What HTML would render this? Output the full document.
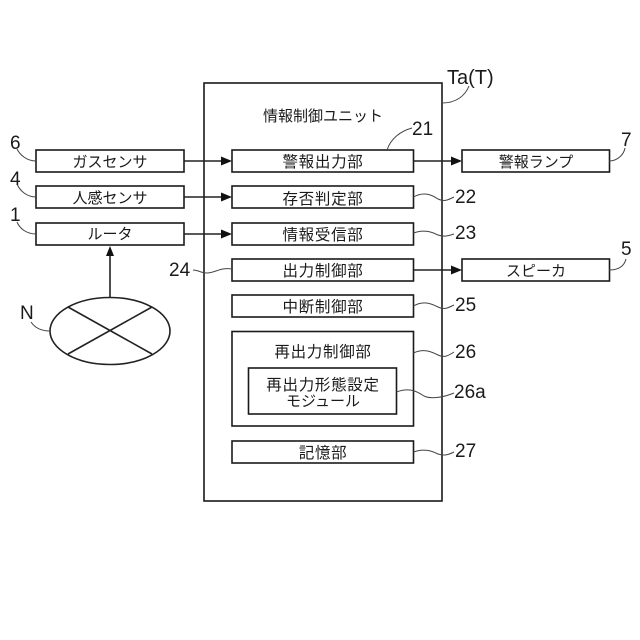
<!DOCTYPE html>
<html><head><meta charset="utf-8"><style>
html,body{margin:0;padding:0;background:#fff}
svg{display:block}
text{font-family:"Liberation Sans","Noto Sans CJK JP",sans-serif;fill:#1a1a1a}
.j{font-size:15.5px;letter-spacing:.7px;text-anchor:middle}
.k{font-size:15px;letter-spacing:0;text-anchor:middle}
.n{font-size:19px}
rect{fill:none;stroke:#1a1a1a;stroke-width:1.6}
.l{fill:none;stroke:#222;stroke-width:1.6}
.t{fill:none;stroke:#444;stroke-width:1}
.a{fill:#111}
</style></head><body>
<svg width="640" height="640" viewBox="0 0 640 640" xmlns="http://www.w3.org/2000/svg">
<rect x="204" y="83" width="238" height="418"/>
<rect x="36" y="150" width="148" height="22"/>
<rect x="36" y="186" width="148" height="22"/>
<rect x="36" y="223" width="148" height="22"/>
<rect x="232" y="150" width="181.500" height="22"/>
<rect x="232" y="186" width="181.500" height="22"/>
<rect x="232" y="223" width="181.500" height="22"/>
<rect x="232" y="259" width="181.500" height="22"/>
<rect x="232" y="295" width="181.500" height="22"/>
<rect x="232" y="331.500" width="181.500" height="94.500"/>
<rect x="248.500" y="368" width="148" height="46"/>
<rect x="232" y="441" width="181.500" height="22"/>
<rect x="462" y="150" width="147.500" height="22"/>
<rect x="462" y="259" width="147.500" height="22"/>
<ellipse class="l" cx="110" cy="331" rx="60" ry="33.500"/>
<path class="l" d="M68 307L152 354M152 307L68 354" stroke-width="1.300"/>
<path class="l" d="M110 297V250M184 161H222M184 197H222M184 234H222M413.500 161H452M413.500 270H452"/>
<path class="a" d="M110 246L106 256H114ZM232 161L221 156.500V165.500ZM232 197L221 192.500V201.500ZM232 234L221 229.500V238.500ZM462 161L451 156.500V165.500ZM462 270L451 265.500V274.500Z"/>
<path class="t" d="M36 161C27 161 20 155 17 149M36 197C27 197 20 191 17 184M36 234C27 234 20 229 17 222M232 269C220 267 215 273 207 273C201 273 198 270 193 270M50 331C41 331 35 328 31 322M442 103C456 103 465 96 469 86M387 150C391 138 401 131 412 128M609 161C618 161 624 154 625 148M609 270C618 270 624 267 626 259M413.500 197C424 191 432 195 438 199C444 202 448 200 454 197M413.500 233C424 229 432 232 438 235C444 237 448 236 454 234M413.500 306C424 300 432 304 438 307C444 310 448 308 454 305M413.500 353C424 348 432 352 438 355C444 358 448 356 454 352M396.500 392C410 387 418 392 424 396C430 399 442 398 454 393M413.500 452C424 448 432 451 438 454C444 456 448 455 454 452"/>
<text class="k" x="110" y="167">ガスセンサ</text>
<text class="k" x="110" y="203">人感センサ</text>
<text class="k" x="110" y="239">ルータ</text>
<text class="k" x="323" y="121">情報制御ユニット</text>
<text class="j" x="323" y="167">警報出力部</text>
<text class="j" x="323" y="204">存否判定部</text>
<text class="j" x="323" y="240">情報受信部</text>
<text class="j" x="323" y="276">出力制御部</text>
<text class="j" x="323" y="312">中断制御部</text>
<text class="j" x="323" y="357">再出力制御部</text>
<text class="j" x="323" y="390">再出力形態設定</text>
<text class="k" x="323" y="406">モジュール</text>
<text class="j" x="323" y="458">記憶部</text>
<text class="k" x="536" y="167">警報ランプ</text>
<text class="k" x="536" y="276">スピーカ</text>
<text class="n" x="10" y="149">6</text>
<text class="n" x="10" y="185">4</text>
<text class="n" x="10" y="221">1</text>
<text class="n" x="20" y="319">N</text>
<text class="n" x="169" y="276">24</text>
<text class="n" x="447" y="84" style="font-size:20px">Ta(T)</text>
<text class="n" x="412" y="135">21</text>
<text class="n" x="621" y="146">7</text>
<text class="n" x="621" y="255">5</text>
<text class="n" x="455" y="203">22</text>
<text class="n" x="455" y="239">23</text>
<text class="n" x="455" y="311">25</text>
<text class="n" x="455" y="358">26</text>
<text class="n" x="454" y="398">26a</text>
<text class="n" x="455" y="457">27</text>
</svg>
</body></html>
